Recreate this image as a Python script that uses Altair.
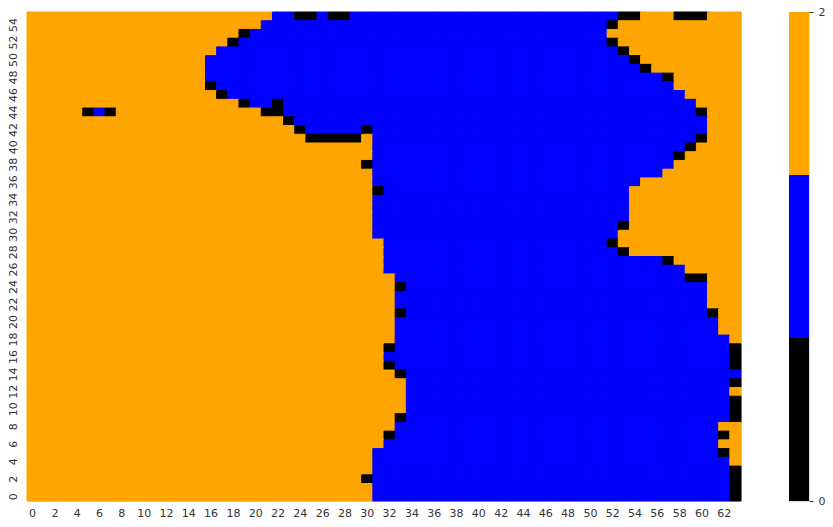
import altair as alt
import pandas as pd

n_cols = 64
n_rows = 56

palette_values = [0, 1, 2]
palette_colors = ["#000000", "#0000ff", "#ffa500"]

# Each row (from row 55 at the top down to row 0): "value:start_col" runs
row_runs = [
    "2:0 1:22 0:24 1:26 0:27 1:29 0:53 2:55 0:58 2:61",  # 55
    "2:0 1:21 0:52 2:53",                                  # 54
    "2:0 0:19 1:20 2:52",                                  # 53
    "2:0 0:18 1:19 0:52 2:53",                             # 52
    "2:0 1:17 0:53 2:54",                                  # 51
    "2:0 1:16 0:54 2:55",                                  # 50
    "2:0 1:16 0:55 2:56",                                  # 49
    "2:0 1:16 0:57 2:58",                                  # 48
    "2:0 0:16 1:17 2:58",                                  # 47
    "2:0 0:17 1:18 2:59",                                  # 46
    "2:0 0:19 1:20 0:22 1:23 2:60",                        # 45
    "2:0 0:5 1:6 0:7 2:8 0:21 1:23 0:60 2:61",             # 44
    "2:0 0:23 1:24 2:61",                                  # 43
    "2:0 0:24 1:25 0:30 1:31 2:61",                        # 42
    "2:0 0:25 2:30 1:31 0:60 2:61",                        # 41
    "2:0 1:31 0:59 2:60",                                  # 40
    "2:0 1:31 0:58 2:59",                                  # 39
    "2:0 0:30 1:31 2:58",                                  # 38
    "2:0 1:31 2:57",                                       # 37
    "2:0 1:31 2:55",                                       # 36
    "2:0 0:31 1:32 2:54",                                  # 35
    "2:0 1:31 2:54",                                       # 34
    "2:0 1:31 2:54",                                       # 33
    "2:0 1:31 2:54",                                       # 32
    "2:0 1:31 0:53 2:54",                                  # 31
    "2:0 1:31 2:53",                                       # 30
    "2:0 1:32 0:52 2:53",                                  # 29
    "2:0 1:32 0:53 2:54",                                  # 28
    "2:0 1:32 0:57 2:58",                                  # 27
    "2:0 1:32 2:59",                                       # 26
    "2:0 1:33 0:59 2:61",                                  # 25
    "2:0 0:33 1:34 2:61",                                  # 24
    "2:0 1:33 2:61",                                       # 23
    "2:0 1:33 2:61",                                       # 22
    "2:0 0:33 1:34 0:61 2:62",                             # 21
    "2:0 1:33 2:62",                                       # 20
    "2:0 1:33 2:62",                                       # 19
    "2:0 1:33 2:63",                                       # 18
    "2:0 0:32 1:33 0:63",                                  # 17
    "2:0 1:32 0:63",                                       # 16
    "2:0 0:32 1:33 0:63",                                  # 15
    "2:0 0:33 1:34",                                       # 14
    "2:0 1:34 0:63",                                       # 13
    "2:0 1:34 2:63",                                       # 12
    "2:0 1:34 0:63",                                       # 11
    "2:0 1:34 0:63",                                       # 10
    "2:0 0:33 1:34 0:63",                                  # 9
    "2:0 1:33 2:62",                                       # 8
    "2:0 0:32 1:33 0:62 2:63",                             # 7
    "2:0 1:32 2:62",                                       # 6
    "2:0 1:31 0:62 2:63",                                  # 5
    "2:0 1:31 2:63",                                       # 4
    "2:0 1:31 0:63",                                       # 3
    "2:0 0:30 1:31 0:63",                                  # 2
    "2:0 1:31 0:63",                                       # 1
    "2:0 1:31 0:63",                                       # 0
]

x_ticks = list(range(0, 64, 2))
y_ticks = list(range(0, 56, 2))
cbar_ticks = [0, 1, 2]

records = []
for i, runs in enumerate(row_runs):
    row = n_rows - 1 - i
    pairs = [tuple(int(t) for t in p.split(":")) for p in runs.split()]
    for k, (val, start) in enumerate(pairs):
        end = pairs[k + 1][1] if k + 1 < len(pairs) else n_cols
        for c in range(start, end):
            records.append({"col": c, "row": row, "value": val})
df = pd.DataFrame(records)

FONT = "DejaVu Sans"
TXT = "#333333"

cscale = alt.Scale(domain=palette_values, range=palette_colors)

heat = alt.Chart(df).mark_rect(strokeWidth=1).encode(
    x=alt.X("col:O", sort="ascending",
            scale=alt.Scale(paddingInner=0, paddingOuter=0),
            axis=alt.Axis(title=None, values=x_ticks, labelAngle=0, ticks=False,
                          domain=False, labelPadding=6, labelFont=FONT,
                          labelFontSize=11, labelColor=TXT)),
    y=alt.Y("row:O", sort="descending",
            scale=alt.Scale(paddingInner=0, paddingOuter=0),
            axis=alt.Axis(title=None, values=y_ticks, labelAngle=270, ticks=False,
                          domain=False, labelPadding=9, labelFont=FONT,
                          labelFontSize=11, labelColor=TXT,
                          labelAlign="center", labelBaseline="bottom")),
    color=alt.Color("value:O", scale=cscale, legend=None),
    stroke=alt.Stroke("value:O", scale=cscale, legend=None),
).properties(width=714, height=489)

cbar_df = pd.DataFrame({
    "lo": [v * 2 / 3 for v in palette_values],
    "hi": [(v + 1) * 2 / 3 for v in palette_values],
    "value": palette_values,
})

cbar = alt.Chart(cbar_df).mark_rect().encode(
    y=alt.Y("lo:Q", scale=alt.Scale(domain=[0, 2], nice=False, zero=False),
            axis=alt.Axis(title=None, orient="right", values=cbar_ticks, format="d",
                          domain=False, ticks=True, tickSize=4, tickColor=TXT,
                          grid=False, labelPadding=5, labelFont=FONT,
                          labelFontSize=11, labelColor=TXT)),
    y2="hi:Q",
    color=alt.Color("value:O", scale=cscale, legend=None),
).properties(width=20, height=489)

chart = alt.hconcat(heat, cbar, spacing=46).properties(
    padding={"left": 6, "top": 5, "right": 5, "bottom": 5}
).configure_view(stroke=None).configure(background="white")

chart.save("out.html", embed_options={"renderer": "svg", "actions": False})
